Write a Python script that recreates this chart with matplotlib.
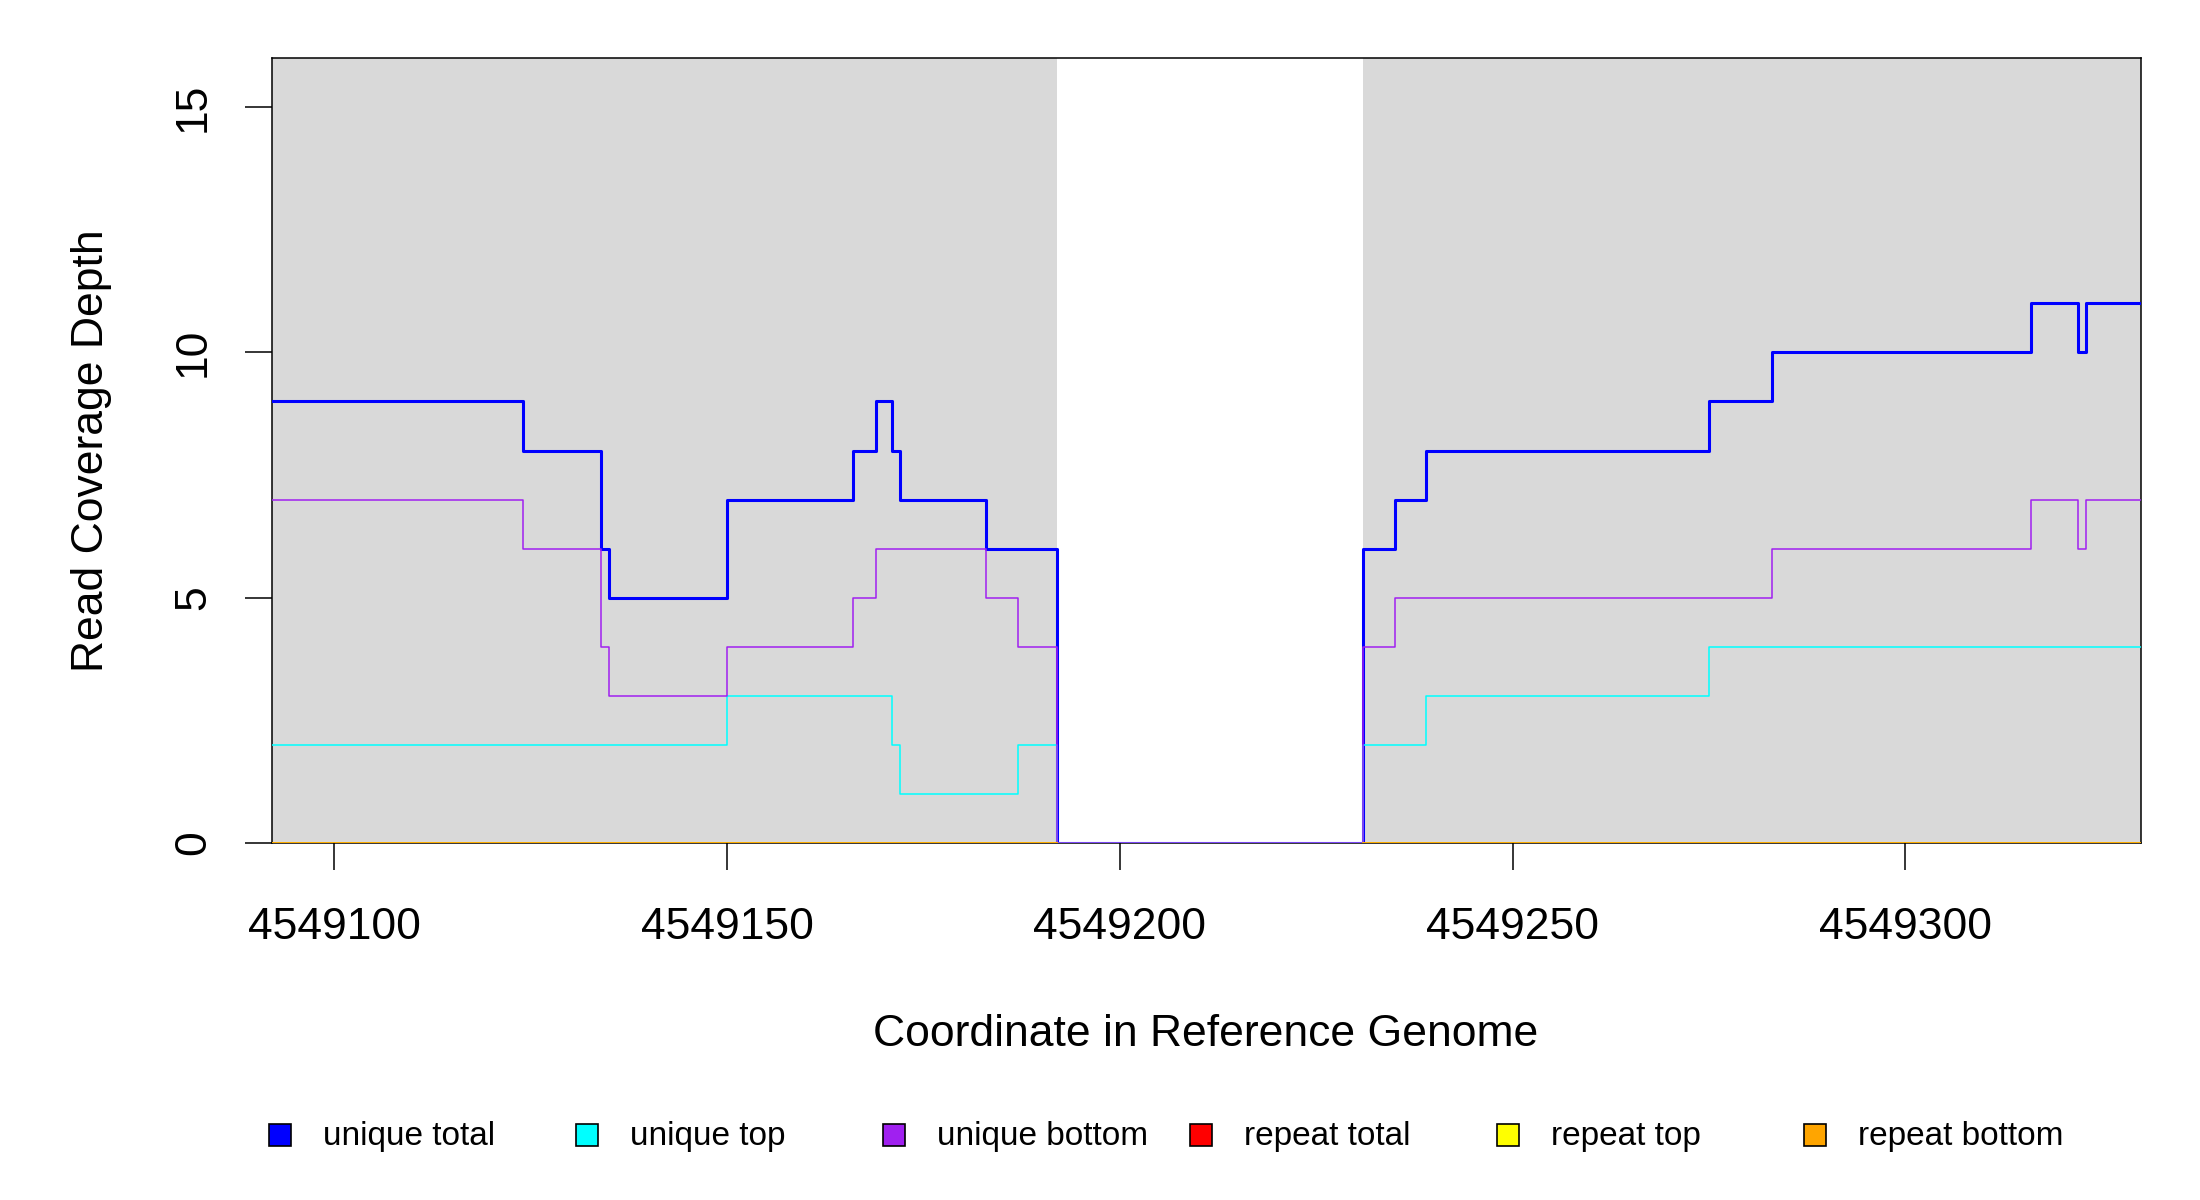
import numpy as np
import matplotlib
matplotlib.use('Agg')
import matplotlib.pyplot as plt
from matplotlib.patches import Rectangle

plt.rcParams['font.family'] = ['Liberation Sans', 'DejaVu Sans']

# coverage data, step changes (value holds until next position)
total_pos = [4549092, 4549124, 4549134, 4549135, 4549150, 4549166, 4549169, 4549171,
             4549172, 4549183, 4549192, 4549231, 4549235, 4549239, 4549275, 4549283,
             4549316, 4549322, 4549323, 4549330]
unique_total = [9, 8, 6, 5, 7, 8, 9, 8, 7, 6, 0, 6, 7, 8, 9, 10, 11, 10, 11, 11]

top_pos = [4549092, 4549150, 4549171, 4549172, 4549187, 4549192, 4549231, 4549239,
           4549275, 4549330]
unique_top = [2, 3, 2, 1, 2, 0, 2, 3, 4, 4]

bottom_pos = [4549092, 4549124, 4549134, 4549135, 4549150, 4549166, 4549169, 4549183,
              4549187, 4549192, 4549231, 4549235, 4549283, 4549316, 4549322, 4549323,
              4549330]
unique_bottom = [7, 6, 4, 3, 4, 5, 6, 5, 4, 0, 4, 5, 6, 7, 6, 7, 7]

repeat_pos = [4549092, 4549192, 4549231, 4549330]
repeat_total = [0, np.nan, 0, 0]
repeat_top = [0, np.nan, 0, 0]
repeat_bottom = [0, np.nan, 0, 0]

# shaded (covered) regions
region_start = [4549092, 4549231]
region_end = [4549192, 4549330]

names = ['unique total', 'unique top', 'unique bottom', 'repeat total', 'repeat top', 'repeat bottom']
colors = ['#0000FF', '#00FFFF', '#A020F0', '#FF0000', '#FFFF00', '#FFA500']

W, H = 2200, 1200
fig = plt.figure(figsize=(11, 6), dpi=200)
x0, x1, y0, y1 = 271.5, 2141, 58, 843
ax = fig.add_axes([x0 / W, 1 - y1 / H, (x1 - x0) / W, (y1 - y0) / H])

for s, e in zip(region_start, region_end):
    ax.axvspan(s, e, color='#D9D9D9', lw=0, zorder=0)

series = [(total_pos, unique_total), (top_pos, unique_top), (bottom_pos, unique_bottom),
          (repeat_pos, repeat_total), (repeat_pos, repeat_top), (repeat_pos, repeat_bottom)]
for i, (p, v) in enumerate(series):
    lw = 1.1 if i == 0 else 0.55
    ax.step(p, v, where='post', color=colors[i], lw=lw, zorder=3 + i * 0.01)

ax.set_xlim(4549092, 4549330)
ax.set_ylim(0, 16)
ax.set_xticks([4549100, 4549150, 4549200, 4549250, 4549300])
ax.set_yticks([0, 5, 10, 15])
ax.ticklabel_format(useOffset=False, style='plain')
ax.tick_params(axis='x', length=9.7, width=0.55, labelsize=16, pad=13.5)
ax.tick_params(axis='y', length=9.7, width=0.55, labelsize=16, pad=11, labelrotation=90)
for t in ax.get_yticklabels():
    t.set_va('center')
for sp in ax.spines.values():
    sp.set_linewidth(0.55)

fig.text(1206 / W, 1 - 1035 / H, 'Coordinate in Reference Genome', fontsize=16,
         ha='center', va='center')
fig.text(92 / W, 1 - 451 / H, 'Read Coverage Depth', fontsize=16, rotation=90,
         ha='center', va='center')

# legend along bottom
for i, (n, c) in enumerate(zip(names, colors)):
    cx = 280 + 307 * i
    cy = 1135
    fig.add_artist(Rectangle(((cx - 11) / W, 1 - (cy + 11) / H), 22 / W, 22 / H,
                             facecolor=c, edgecolor='black', lw=0.6,
                             transform=fig.transFigure))
    fig.text((cx + 43) / W, 1 - (cy + 2) / H, n, fontsize=12, ha='left', va='center')

fig.savefig('out.png', dpi=200)
